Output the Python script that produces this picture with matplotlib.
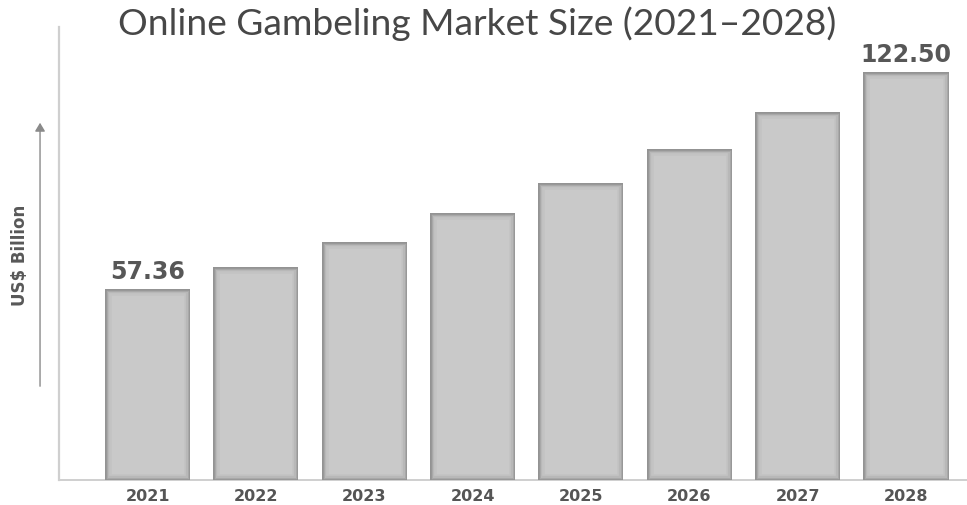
import matplotlib
matplotlib.use("Agg")
import matplotlib.pyplot as plt
from matplotlib.patches import Rectangle

# Market size by year (US$ billion)
years = ["2021", "2022", "2023", "2024", "2025", "2026", "2027", "2028"]
values = [57.36, 64.0, 71.5, 80.1, 89.1, 99.3, 110.3, 122.50]
labelled = {0: "57.36", 7: "122.50"}

title = "Online Gambeling Market Size (2021\u20132028)"
y_label = "US$ Billion"

fig = plt.figure(figsize=(9.67, 5.06), dpi=100)
ax = fig.add_axes([0.061, 0.0494, 0.939, 0.8953])

x = list(range(len(years)))
bar_w = 0.785
face = "#c9c9c9"
bars = ax.bar(x, values, width=bar_w, color=face, edgecolor="none", zorder=2)

# soft inner shading along the bar edges
for bar in bars:
    for lw, col in [(9, "#c3c3c3"), (6, "#b8b8b8"), (3.6, "#a8a8a8"), (1.8, "#939393")]:
        r = Rectangle(bar.get_xy(), bar.get_width(), bar.get_height(),
                      facecolor="none", edgecolor=col, linewidth=lw, zorder=3)
        ax.add_patch(r)
        r.set_clip_path(bar)

ax.set_xlim(-0.817, 7.563)
ax.set_ylim(0, 135.9)

# axis lines
for side in ["top", "right"]:
    ax.spines[side].set_visible(False)
ax.spines["left"].set_color("#cfcfcf")
ax.spines["left"].set_linewidth(1.6)
ax.spines["bottom"].set_color("#cfcfcf")
ax.spines["bottom"].set_linewidth(1.4)
ax.set_yticks([])
ax.set_xticks(x)
ax.set_xticklabels(years, fontsize=11.5, fontweight="bold", color="#555555",
                   family="DejaVu Sans")
ax.tick_params(axis="x", length=0, pad=6)

# value labels
for i, txt in labelled.items():
    ax.annotate(txt, (x[i], values[i]), xytext=(0, 4), textcoords="offset points",
                ha="center", va="bottom", fontsize=17, fontweight="bold",
                color="#575757", family="DejaVu Sans", zorder=4)

# title
fig.text(0.493, 0.93, title, ha="center", va="baseline", fontsize=26.7,
         family="Lato", fontweight="normal", color="#474747")

# y-axis caption with arrow
fig.text(0.021, 0.496, y_label, rotation=90, ha="center", va="center",
         fontsize=12, fontweight="bold", color="#585858", family="DejaVu Sans")
fig.add_artist(matplotlib.patches.FancyArrowPatch(
    (0.0414, 1 - 390 / 506), (0.0414, 1 - 121 / 506), transform=fig.transFigure,
    arrowstyle="-|>,head_length=5,head_width=3", color="#8a8a8a", linewidth=1.0,
    mutation_scale=1))

fig.savefig("out.png", dpi=100)
